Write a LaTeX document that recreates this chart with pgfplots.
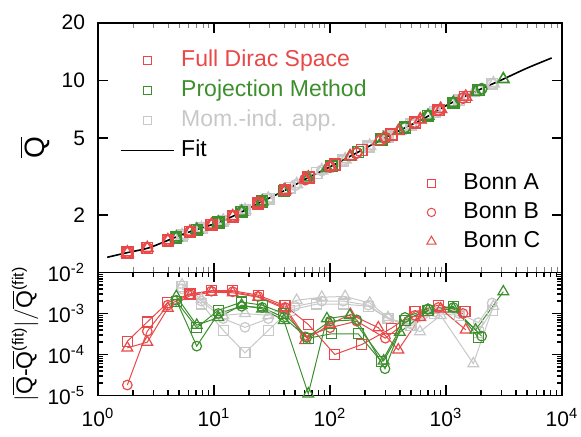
\documentclass[border=0pt]{standalone}
\usepackage{fontspec}
\setmainfont{Liberation Sans}
\usepackage{pgfplots}
\usepackage{pgfplotstable}
\pgfplotsset{compat=1.18}
\definecolor{myred}{HTML}{E84848}
\definecolor{mygreen}{HTML}{3C8F2C}
\definecolor{mygray}{HTML}{C8C8C8}

% columns: x, Qbar, relative deviation from fit
\pgfplotstableread{
x q e
1.79 1.27 2.1e-4
2.66 1.34 6.2e-4
4.0 1.47 1.85e-3
6.2 1.63 3.0e-3
9.5 1.77 3.6e-3
14.5 1.96 3.6e-3
24 2.29 2.8e-3
41 2.68 1.55e-3
65 3.12 5.4e-4
110 3.65 1.0e-4
188 4.34 1.75e-4
340 5.24 4.4e-4
540 6.05 1.1e-3
860 7.0 1.6e-3
1460 8.2 1.1e-3
}\redA
\pgfplotstableread{
x q e
1.79 1.27 1.8e-5
2.66 1.34 3.7e-4
4.0 1.47 1.6e-3
6.2 1.63 2.9e-3
9.5 1.77 3.5e-3
14.5 1.96 3.4e-3
24 2.29 2.6e-3
41 2.68 1.4e-3
61 3.05 2.7e-4
100 3.55 4.5e-4
170 4.20 6.5e-4
300 5.04 2.5e-4
540 6.05 9e-4
860 7.0 1.4e-3
1400 8.1 1.0e-3
}\redB
\pgfplotstableread{
x q e
1.79 1.27 1.45e-4
2.66 1.34 2.0e-4
4.0 1.47 1.35e-3
6.2 1.63 2.7e-3
9.5 1.77 3.3e-3
14.5 1.96 3.2e-3
24 2.29 2.5e-3
41 2.68 1.3e-3
61 3.05 2.2e-4
100 3.55 5.5e-4
150 4.02 9.5e-4
261 4.82 4.5e-4
388 5.45 1.3e-4
600 6.26 8e-4
900 7.1 1.3e-3
1480 8.22 4e-4
}\redC
\pgfplotstableread{
x q e
4.73 1.52 2.0e-3
7.1 1.67 4.5e-4
10.9 1.82 1.2e-3
17.3 2.07 1.9e-3
26 2.34 1.6e-3
40 2.66 1.0e-3
65 3.12 2.5e-4
103 3.58 3.2e-4
175 4.24 3.2e-4
279 4.93 6.6e-5
443 5.68 6.9e-4
700 6.55 1.2e-3
1156 7.65 1.5e-3
1900 8.9 2.6e-4
}\grnA
\pgfplotstableread{
x q e
4.73 1.52 2.1e-3
7.1 1.67 1.6e-4
10.9 1.82 1.0e-3
17.3 2.07 1.5e-3
26 2.34 1.4e-3
40 2.66 8e-4
63 3.08 2.6e-4
100 3.55 6.5e-4
170 4.20 7e-4
298 5.03 4.5e-5
443 5.68 8e-4
700 6.55 1.3e-3
1156 7.65 1.4e-3
2030 9.05 2.8e-4
}\grnB
\pgfplotstableread{
x q e
4.73 1.52 2.6e-3
7.1 1.67 5.2e-4
10.9 1.82 8e-4
17.3 2.07 1.6e-3
26 2.34 1.3e-3
40 2.66 6.8e-4
65 3.12 1.1e-5
94 3.49 7.5e-4
148 4.00 9e-4
290 4.99 7e-5
400 5.50 3.5e-4
700 6.55 1.2e-3
1156 7.65 1.3e-3
1800 8.72 4e-4
3120 10.15 3.4e-3
}\grnC
\pgfplotstableread{
x q e
5.3 1.56 4.5e-3
7.8 1.70 1.7e-3
12 1.86 3.9e-4
18.5 2.11 1.1e-4
29.4 2.42 3.9e-4
45 2.76 1.2e-3
77 3.30 1.7e-3
130 3.84 1.7e-3
214 4.52 1.5e-3
316 5.12 7.5e-4
500 5.90 5e-4
800 6.85 1.0e-3
1300 7.9 9e-4
1900 8.9 3.5e-4
2500 9.6 1.2e-3
}\gryA
\pgfplotstableread{
x q e
5.3 1.56 4.0e-3
7.8 1.70 2.0e-3
12 1.86 7.5e-4
18.5 2.11 4.6e-4
29.4 2.42 7.5e-4
50 2.85 1.5e-3
85 3.40 2.0e-3
130 3.84 2.0e-3
214 4.52 1.6e-3
316 5.12 7.5e-4
500 5.90 5.5e-4
800 6.85 1.1e-3
1300 7.9 1.0e-3
1900 8.9 6e-4
2500 9.6 1.8e-3
}\gryB
\pgfplotstableread{
x q e
5.3 1.56 5.0e-3
7.8 1.70 2.2e-3
12 1.86 9e-4
18.5 2.11 1.0e-3
29.4 2.42 9e-4
51.6 2.88 2.1e-3
85 3.40 2.5e-3
135 3.88 2.6e-3
220 4.56 1.8e-3
316 5.12 8e-4
597 6.25 3.6e-4
900 7.1 9e-4
1720 8.6 6e-5
2560 9.65 1.5e-3
}\gryC
\pgfplotstableread{
x q
1.2 1.20
1.8 1.27
2.7 1.34
4 1.47
6 1.62
10 1.79
15 1.98
24 2.29
40 2.66
65 3.12
100 3.55
160 4.12
280 4.93
430 5.62
680 6.45
1000 7.4
1900 8.9
3100 10.15
5000 11.6
8150 13.1
}\fit

\begin{document}
\begin{tikzpicture}
\path[use as bounding box] (0,0) rectangle (290.5pt,218.5pt);

% upper panel
\begin{axis}[xmode=log, ymode=log, scale only axis, width=232pt, height=124.9pt,
  at={(49pt,82.25pt)}, anchor=south west,
  xmin=1, xmax=10000, ymin=1, ymax=20,
  axis line style={line width=0.9pt},
  major tick style={black, line width=0.9pt},
  major tick length=5pt,
  tick label style={font=\fontsize{10.5}{12}\selectfont},
  yticklabel style={xshift=-3pt},
  xtick={1,10,100,1000,10000}, xticklabels={}, minor xtick={},
  ytick={2,5,10,20}, yticklabels={2,5,10,20}, minor ytick={},
  ylabel={$\overline{\hbox{Q}}$},
  ylabel style={at={(axis description cs:-0.136,0.5)}, anchor=center, font=\fontsize{14}{16}\selectfont},
  legend cell align=left,
  legend style={at={(0.067,0.895)}, anchor=north west, draw=none, fill=none, inner sep=0pt,
    font=\fontsize{11.5}{13}\selectfont, row sep=4pt,
    nodes={text height=8.5pt, text depth=2.5pt, inner ysep=0pt, inner xsep=2pt}},
]
\addlegendimage{legend image code/.code={\draw[myred, line width=0.5pt] (0.3cm,0cm) ++(-2pt,-2pt) rectangle ++(4pt,4pt);}}
\addlegendentry{\hspace{6pt}\textcolor{myred}{Full Dirac Space}}
\addlegendimage{legend image code/.code={\draw[mygreen, line width=0.5pt] (0.3cm,0cm) ++(-2pt,-2pt) rectangle ++(4pt,4pt);}}
\addlegendentry{\hspace{6pt}\textcolor{mygreen}{Projection Method}}
\addlegendimage{legend image code/.code={\draw[mygray, line width=0.5pt] (0.3cm,0cm) ++(-2pt,-2pt) rectangle ++(4pt,4pt);}}
\addlegendentry{\hspace{6pt}\textcolor{mygray}{Mom.-ind. app.}}
\addlegendimage{legend image code/.code={\draw[black, line width=0.8pt] (0cm,0cm) -- (0.6cm,0cm); \draw[black, line width=0.8pt, overlay] (-0.17cm,0cm) -- (0.77cm,0cm);}}
\addlegendentry{\hspace{6pt}Fit}

\addplot[forget plot, only marks, mygray, mark=square, mark size=2.7pt, mark options={line width=0.8pt}] table[x=x, y=q] {\gryA};
\addplot[forget plot, only marks, mygray, mark=o, mark size=2.6pt, mark options={line width=0.8pt}] table[x=x, y=q] {\gryB};
\addplot[forget plot, only marks, mygray, mark=triangle, mark size=3.3pt, mark options={line width=0.8pt}] table[x=x, y=q] {\gryC};
\addplot[forget plot, only marks, mygreen, mark=square, mark size=2.7pt, mark options={line width=0.8pt}] table[x=x, y=q] {\grnA};
\addplot[forget plot, only marks, mygreen, mark=o, mark size=2.6pt, mark options={line width=0.8pt}] table[x=x, y=q] {\grnB};
\addplot[forget plot, only marks, mygreen, mark=triangle, mark size=3.3pt, mark options={line width=0.8pt}] table[x=x, y=q] {\grnC};
\addplot[forget plot, only marks, myred, mark=square, mark size=2.7pt, mark options={line width=0.8pt}] table[x=x, y=q] {\redA};
\addplot[forget plot, only marks, myred, mark=o, mark size=2.6pt, mark options={line width=0.8pt}] table[x=x, y=q] {\redB};
\addplot[forget plot, only marks, myred, mark=triangle, mark size=3.3pt, mark options={line width=0.8pt}] table[x=x, y=q] {\redC};
\addplot[forget plot, black, line width=0.8pt, smooth, no marks] table[x=x, y=q] {\fit};
\end{axis}

% lower panel (also carries the legend of the potentials, placed in the upper panel)
\begin{axis}[xmode=log, ymode=log, scale only axis, width=232pt, height=61.5pt,
  at={(49pt,20.75pt)}, anchor=south west,
  xmin=1, xmax=10000, ymin=1e-5, ymax=1e-2,
  axis line style={line width=0.9pt},
  major tick style={black, line width=0.9pt},
  minor tick style={black, line width=0.7pt},
  major tick length=5pt, minor tick length=2.5pt,
  tick label style={font=\fontsize{10.5}{12}\selectfont},
  yticklabel style={xshift=-3pt},
  xticklabel style={yshift=-3pt},
  xtick={1,10,100,1000,10000},
  xticklabels={10\textsuperscript{0},10\textsuperscript{1},10\textsuperscript{2},10\textsuperscript{3},10\textsuperscript{4}},
  minor xtick={2,3,4,5,6,7,8,9,20,30,40,50,60,70,80,90,200,300,400,500,600,700,800,900,2000,3000,4000,5000,6000,7000,8000,9000},
  ytick={1e-5,1e-4,1e-3,1e-2},
  yticklabels={10\textsuperscript{-5},10\textsuperscript{-4},10\textsuperscript{-3},10\textsuperscript{-2}},
  minor ytick={2e-5,3e-5,4e-5,5e-5,6e-5,7e-5,8e-5,9e-5,2e-4,3e-4,4e-4,5e-4,6e-4,7e-4,8e-4,9e-4,2e-3,3e-3,4e-3,5e-3,6e-3,7e-3,8e-3,9e-3},
  ylabel={$|\overline{\hbox{Q}}$-$\overline{\hbox{Q}}$\textsuperscript{(fit)}$|/\overline{\hbox{Q}}$\textsuperscript{(fit)}},
  ylabel style={at={(axis description cs:-0.157,0.5)}, anchor=center, font=\fontsize{11.5}{13}\selectfont},
  legend cell align=left,
  legend style={at={(0.707,1.817)}, anchor=north west, draw=none, fill=none, inner sep=0pt,
    font=\fontsize{11.5}{13}\selectfont, row sep=3.5pt,
    nodes={text height=8.5pt, text depth=2.5pt, inner ysep=0pt, inner xsep=2pt, text=black}},
]
\addlegendimage{legend image code/.code={\color{myred}\pgfsetstrokecolor{myred}\draw[draw=myred, line width=0.5pt] (0.3cm-2pt,-2pt) -- (0.3cm+2pt,-2pt) -- (0.3cm+2pt,2pt) -- (0.3cm-2pt,2pt) -- cycle;}}
\addlegendentry{\hspace{11.5pt}Bonn A}
\addlegendimage{legend image code/.code={\draw[myred, line width=0.5pt] (0.3cm,0cm) circle (2.1pt);}}
\addlegendentry{\hspace{11.5pt}Bonn B}
\addlegendimage{legend image code/.code={\draw[myred, line width=0.5pt] (0.3cm,2.6pt) -- ++(-2.25pt,-3.9pt) -- ++(4.5pt,0pt) -- cycle;}}
\addlegendentry{\hspace{11.5pt}Bonn C}

\addplot[forget plot, mygray, line width=0.5pt, mark=square, mark size=2.5pt, mark options={solid, line width=0.6pt}] table[x=x, y=e] {\gryA};
\addplot[forget plot, mygray, line width=0.5pt, mark=o, mark size=2.4pt, mark options={solid, line width=0.6pt}] table[x=x, y=e] {\gryB};
\addplot[forget plot, mygray, line width=0.5pt, mark=triangle, mark size=3.1pt, mark options={solid, line width=0.6pt}] table[x=x, y=e] {\gryC};
\addplot[forget plot, myred, line width=0.5pt, mark=square, mark size=2.5pt, mark options={solid, line width=0.6pt}] table[x=x, y=e] {\redA};
\addplot[forget plot, myred, line width=0.5pt, mark=o, mark size=2.4pt, mark options={solid, line width=0.6pt}] table[x=x, y=e] {\redB};
\addplot[forget plot, myred, line width=0.5pt, mark=triangle, mark size=3.1pt, mark options={solid, line width=0.6pt}] table[x=x, y=e] {\redC};
\addplot[forget plot, mygreen, line width=0.5pt, mark=square, mark size=2.5pt, mark options={solid, line width=0.6pt}] table[x=x, y=e] {\grnA};
\addplot[forget plot, mygreen, line width=0.5pt, mark=o, mark size=2.4pt, mark options={solid, line width=0.6pt}] table[x=x, y=e] {\grnB};
\addplot[forget plot, mygreen, line width=0.5pt, mark=triangle, mark size=3.1pt, mark options={solid, line width=0.6pt}] table[x=x, y=e] {\grnC};
\end{axis}
\end{tikzpicture}
\end{document}
